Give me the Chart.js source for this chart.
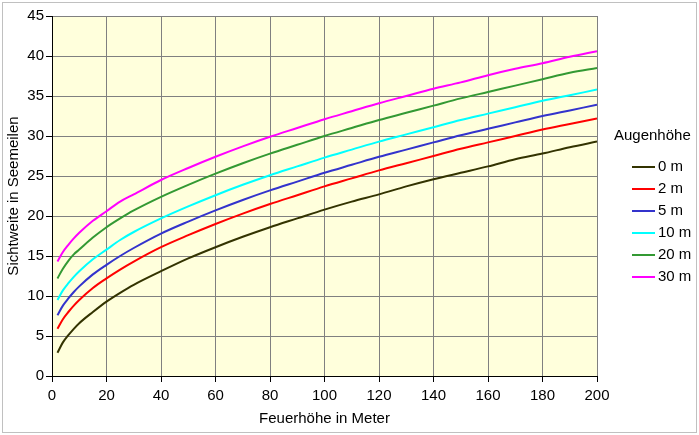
<!DOCTYPE HTML>
<html>
<head>
    <script src="https://cdn.jsdelivr.net/npm/chart.js"></script>
</head>
<body>
<style>
    * {
        margin: 0;
        padding: 0;
        box-sizing: border-box;
    }
    body {
        background: #ffffff;
    }
    .chart {
        width: 699px;
        height: 435px;
    }
</style>
<div class="chart">
    <canvas id="myChart" width="699" height="435"></canvas>
</div>
<script>
    const feuerhoehe = [2, 4, 6, 8, 10, 15, 20, 25, 30, 40, 50, 60, 70, 80, 90, 100, 110, 120, 130, 140, 150, 160, 170, 180, 190, 200];

    // Sichtweite (sm) je Augenhöhe
    const aug0 = [2.9, 4.2, 5.1, 5.9, 6.6, 8.0, 9.3, 10.4, 11.4, 13.1, 14.7, 16.1, 17.4, 18.6, 19.7, 20.8, 21.8, 22.7, 23.7, 24.6, 25.4, 26.2, 27.1, 27.8, 28.6, 29.3];
    const aug2 = [5.9, 7.1, 8.0, 8.8, 9.5, 11.0, 12.2, 13.3, 14.3, 16.1, 17.6, 19.0, 20.3, 21.5, 22.6, 23.7, 24.7, 25.7, 26.6, 27.5, 28.4, 29.2, 30.0, 30.8, 31.5, 32.2];
    const aug5 = [7.6, 8.8, 9.7, 10.5, 11.2, 12.7, 13.9, 15.0, 16.0, 17.8, 19.3, 20.7, 22.0, 23.2, 24.3, 25.4, 26.4, 27.4, 28.3, 29.2, 30.1, 30.9, 31.7, 32.5, 33.2, 33.9];
    const aug10 = [9.5, 10.7, 11.6, 12.4, 13.1, 14.6, 15.8, 17.0, 18.0, 19.7, 21.2, 22.6, 23.9, 25.1, 26.2, 27.3, 28.3, 29.3, 30.2, 31.1, 32.0, 32.8, 33.6, 34.4, 35.1, 35.8];
    const aug20 = [12.2, 13.4, 14.4, 15.2, 15.8, 17.3, 18.6, 19.7, 20.7, 22.4, 23.9, 25.3, 26.6, 27.8, 28.9, 30.0, 31.0, 32.0, 32.9, 33.8, 34.7, 35.5, 36.3, 37.1, 37.9, 38.5];
    const aug30 = [14.3, 15.5, 16.4, 17.2, 17.9, 19.4, 20.6, 21.8, 22.7, 24.5, 26.0, 27.4, 28.7, 29.9, 31.0, 32.1, 33.1, 34.1, 35.0, 35.9, 36.7, 37.6, 38.4, 39.1, 39.9, 40.6];

    const labels = ['0 m', '2 m', '5 m', '10 m', '20 m', '30 m'];
    const farben = ['#333300', '#ff0000', '#3333cc', '#00ffff', '#339933', '#ff00ff'];
    const reihen = [aug0, aug2, aug5, aug10, aug20, aug30];

    Chart.defaults.font.family = "'Liberation Sans', Arial, sans-serif";
    Chart.defaults.font.size = 15;
    Chart.defaults.color = '#000000';

    const hintergrund = {
        id: 'hintergrund',
        beforeDraw(chart) {
            const ctx = chart.ctx;
            const a = chart.chartArea;
            ctx.save();
            ctx.fillStyle = '#ffffff';
            ctx.fillRect(0, 0, chart.width, chart.height);
            ctx.strokeStyle = '#c0c0c0';
            ctx.lineWidth = 1;
            ctx.strokeRect(2.5, 2.5, 694, 430);
            ctx.fillStyle = '#ffffdc';
            ctx.fillRect(a.left, a.top, a.right - a.left, a.bottom - a.top);
            ctx.restore();
        }
    };

    // Legende rechts mit Titel
    const legende = {
        id: 'legende',
        afterDraw(chart) {
            const ctx = chart.ctx;
            ctx.save();
            ctx.font = "15px 'Liberation Sans', Arial, sans-serif";
            ctx.fillStyle = '#000';
            ctx.textBaseline = 'middle';
            ctx.fillText('Augenhöhe', 614, 136);
            chart.data.datasets.forEach((ds, i) => {
                const y = 167 + i * 22;
                ctx.strokeStyle = ds.borderColor;
                ctx.lineWidth = 2;
                ctx.beginPath();
                ctx.moveTo(632, y);
                ctx.lineTo(655, y);
                ctx.stroke();
                ctx.fillStyle = '#000';
                ctx.fillText(ds.label, 658, y);
            });
            ctx.restore();
        }
    };

    const ctx = document.getElementById('myChart');
    new Chart(ctx, {
        type: 'line',
        data: {
            datasets: reihen.map((r, i) => ({
                label: labels[i],
                data: r.map((v, j) => ({x: feuerhoehe[j], y: v})),
                borderColor: farben[i],
                backgroundColor: farben[i],
                borderWidth: 2,
                pointRadius: 0,
                cubicInterpolationMode: 'monotone',
                fill: false
            }))
        },
        options: {
            responsive: false,
            animation: false,
            layout: {
                padding: {left: 0, top: 16, right: 102, bottom: 0}
            },
            plugins: {
                legend: {display: false},
                tooltip: {enabled: false}
            },
            scales: {
                x: {
                    type: 'linear',
                    min: 0,
                    max: 200,
                    ticks: {stepSize: 20, padding: 5, maxRotation: 0},
                    grid: {color: '#808080', tickColor: '#000', tickLength: 6},
                    border: {color: '#000', width: 1},
                    title: {display: true, text: 'Feuerhöhe in Meter', padding: {bottom: 7}},
                    afterFit(scale) { scale.height = 59; }
                },
                y: {
                    min: 0,
                    max: 45,
                    ticks: {stepSize: 5, padding: 2},
                    grid: {color: '#808080', tickColor: '#000', tickLength: 6},
                    border: {color: '#000', width: 1},
                    title: {display: true, text: 'Sichtweite in Seemeilen', padding: {top: 5}},
                    afterFit(scale) { scale.width = 52; }
                }
            }
        },
        plugins: [hintergrund, legende]
    });
</script>
</body>
</html>
